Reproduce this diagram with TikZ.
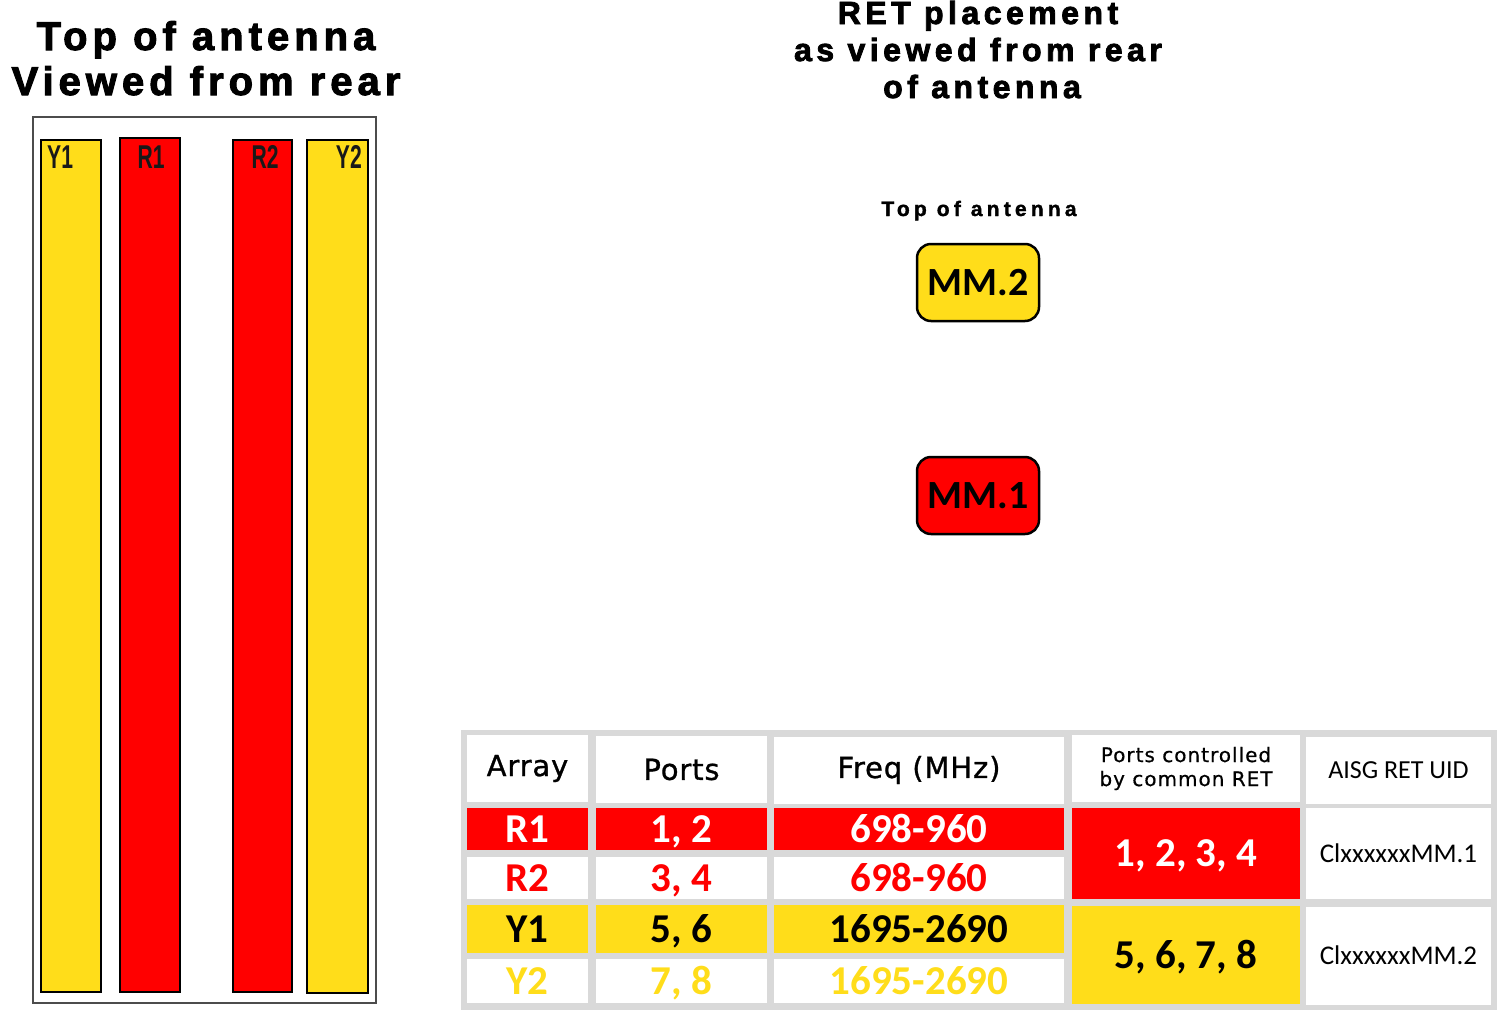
\documentclass[tikz,border=0pt]{standalone}
\usepackage{fontspec}
\setmainfont{Liberation Sans}
\newfontfamily\titlefont{Liberation Sans}[LetterSpace=12.5,FakeBold=2.5]
\newfontfamily\rettitlefont{Liberation Sans}[LetterSpace=14,FakeBold=2.5]
\newfontfamily\smalltitlefont{Liberation Sans}[LetterSpace=20,FakeBold=1.5]
\newfontfamily\hdrfont{DejaVu Sans}[LetterSpace=3,FakeBold=1]
\newfontfamily\hdrsmallfont{DejaVu Sans}[LetterSpace=5,FakeBold=0.6]
\newfontfamily\datafont{Carlito}
\definecolor{ared}{RGB}{255,0,0}
\definecolor{ayel}{RGB}{255,221,26}
\definecolor{agrid}{RGB}{217,217,217}
\begin{document}
\begin{tikzpicture}[x=1pt,y=-1pt,
  bar/.style={draw=black, line width=2pt, inner sep=0pt},
  barlbl/.style={inner sep=0pt, font=\bfseries\fontsize{33}{33}\selectfont, text=black!90},
  bigtitle/.style={inner sep=0pt, font=\titlefont\bfseries\fontsize{40}{40}\selectfont},
  rettitle/.style={inner sep=0pt, font=\rettitlefont\bfseries\fontsize{32}{32}\selectfont},
  mmbox/.style={draw=black, line width=2.5pt, rounded corners=14pt, minimum width=122pt, minimum height=77pt, inner sep=0pt, font=\datafont\bfseries\fontsize{40}{40}\selectfont},
  cell/.style={inner sep=0pt, align=center},
  datacell/.style={cell, font=\datafont\bfseries\fontsize{41}{41}\selectfont, text height=26pt, text depth=0pt},
  hdrcell/.style={cell, fill=white, font=\hdrfont\fontsize{29}{29}\selectfont},
  uidcell/.style={cell, fill=white, font=\datafont\fontsize{27}{27}\selectfont, text height=17pt, text depth=0pt}
]
\useasboundingbox (0,0) rectangle (1500,1015);

% ---------- left: antenna viewed from rear ----------
\node[bigtitle, anchor=base] (t1) at (206,50) {Top of antenna};
\node[bigtitle, anchor=base] (t2) at (206,95) {Viewed from rear};

\node[draw=black!70, line width=1.5pt, minimum width=343pt, minimum height=886pt, inner sep=0pt] (frame) at (204.5,560) {};
\node[bar, fill=ayel, minimum width=60pt, minimum height=852pt] (y1) at (71,566) {};
\node[bar, fill=ared, minimum width=60pt, minimum height=854pt] (r1) at (150,565) {};
\node[bar, fill=ared, minimum width=59pt, minimum height=852pt] (r2) at (262.5,566) {};
\node[bar, fill=ayel, minimum width=61pt, minimum height=853pt] (y2) at (337.5,566.5) {};

\node[barlbl, anchor=base west] (y1l) at (47,168) {\scalebox{0.64}[1]{Y1}};
\node[barlbl, anchor=base] (r1l) at (151,168) {\scalebox{0.64}[1]{R1}};
\node[barlbl, anchor=base] (r2l) at (265,168) {\scalebox{0.64}[1]{R2}};
\node[barlbl, anchor=base east] (y2l) at (362,168) {\scalebox{0.64}[1]{Y2}};

% ---------- right: RET placement ----------
\node[rettitle, anchor=base] (rt1) at (978,24) {RET placement};
\node[rettitle, anchor=base] (rt2) at (978,61) {as viewed from rear};
\node[rettitle, anchor=base] (rt3) at (982,98) {of antenna};

\node[inner sep=0pt, anchor=base, font=\smalltitlefont\bfseries\fontsize{21}{21}\selectfont] (toa) at (979,216) {Top of antenna};

\node[mmbox, fill=ayel] (mm2) at (978,282.5) {MM.2};
\node[mmbox, fill=ared] (mm1) at (978,495.5) {MM.1};

% ---------- table ----------
\node[fill=agrid, minimum width=1036pt, minimum height=280pt, inner sep=0pt] (tbl) at (979,870) {};

% header row (y 735-802)
\node[hdrcell, minimum width=121pt, minimum height=67pt] (h1) at (527.5,768.5) {Array};
\node[hdrcell, minimum width=171pt, minimum height=67pt] (h2) at (681.5,769.5) {Ports};
\node[hdrcell, minimum width=290pt, minimum height=67pt] (h3) at (919,770) {Freq (MHz)};
\node[cell, fill=white, minimum width=228pt, minimum height=67pt, font=\hdrsmallfont\fontsize{20}{24}\selectfont] (h4) at (1186,768.5) {Ports controlled\\by common RET};
\node[uidcell, minimum width=185pt, minimum height=67pt, font=\datafont\fontsize{26}{26}\selectfont] (h5) at (1398.5,770) {AISG RET UID};

% R1 row (808-850)
\node[datacell, fill=ared, text=white, minimum width=121pt, minimum height=42pt] (c11) at (527.5,829) {R1};
\node[datacell, fill=ared, text=white, minimum width=171pt, minimum height=42pt] (c12) at (681.5,829) {1, 2};
\node[datacell, fill=ared, text=white, minimum width=290pt, minimum height=42pt] (c13) at (919,829) {698-960};
% R2 row (857-899)
\node[datacell, fill=white, text=ared, minimum width=121pt, minimum height=42pt] (c21) at (527.5,878) {R2};
\node[datacell, fill=white, text=ared, minimum width=171pt, minimum height=42pt] (c22) at (681.5,878) {3, 4};
\node[datacell, fill=white, text=ared, minimum width=290pt, minimum height=42pt] (c23) at (919,878) {698-960};
% Y1 row (905-953)
\node[datacell, fill=ayel, text=black, minimum width=121pt, minimum height=48pt] (c31) at (527.5,929) {Y1};
\node[datacell, fill=ayel, text=black, minimum width=171pt, minimum height=48pt] (c32) at (681.5,929) {5, 6};
\node[datacell, fill=ayel, text=black, minimum width=290pt, minimum height=48pt] (c33) at (919,929) {1695-2690};
% Y2 row (959-1003)
\node[datacell, fill=white, text=ayel, minimum width=121pt, minimum height=44pt] (c41) at (527.5,981) {Y2};
\node[datacell, fill=white, text=ayel, minimum width=171pt, minimum height=44pt] (c42) at (681.5,981) {7, 8};
\node[datacell, fill=white, text=ayel, minimum width=290pt, minimum height=44pt] (c43) at (919,981) {1695-2690};

% merged cells
\node[datacell, fill=ared, text=white, minimum width=228pt, minimum height=91pt] (m1) at (1186,853.5) {1, 2, 3, 4};
\node[datacell, fill=ayel, text=black, minimum width=228pt, minimum height=98pt] (m2) at (1186,955) {5, 6, 7, 8};
\node[uidcell, minimum width=185pt, minimum height=91pt] (u1) at (1398.5,853.5) {ClxxxxxxMM.1};
\node[uidcell, minimum width=185pt, minimum height=98pt] (u2) at (1398.5,956) {ClxxxxxxMM.2};
\end{tikzpicture}
\end{document}
